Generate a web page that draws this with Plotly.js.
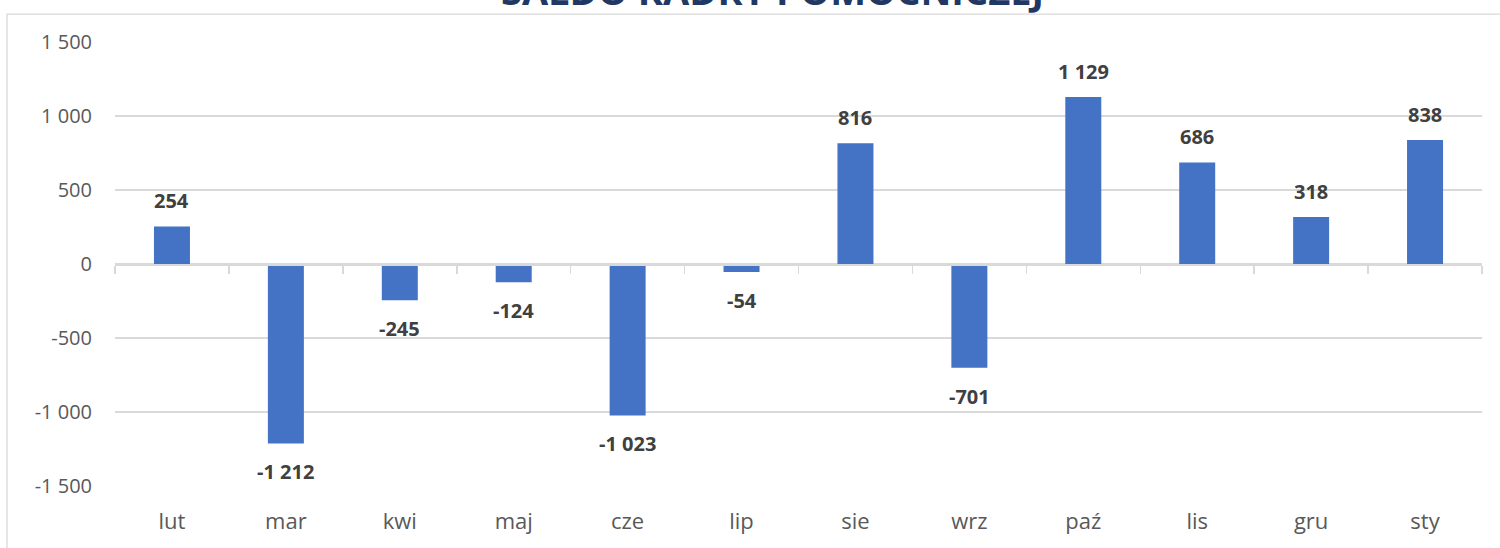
<!DOCTYPE html>
<html>
<head>
<meta charset="utf-8">
<script src="https://cdn.plot.ly/plotly-3.0.1.min.js"></script>
<style>html,body{margin:0;padding:0;background:#fff;}#chart{width:1500px;height:548px;}</style>
</head>
<body>
<div id="chart"></div>
<script>
const months = ['lut','mar','kwi','maj','cze','lip','sie','wrz','paź','lis','gru','sty'];
const saldo = [254, -1212, -245, -124, -1023, -54, 816, -701, 1129, 686, 318, 838];
const yTickVals = [-1500, -1000, -500, 0, 500, 1000, 1500];
const yTickLabels = ['-1 500', '-1 000', '-500', '0', '500', '1 000', '1 500'];
const titleText = 'SALDO KADRY POMOCNICZEJ';

function fmt(v) {
  const s = Math.abs(v).toString().replace(/\B(?=(\d{3})+(?!\d))/g, ' ');
  return (v < 0 ? '-' : '') + s;
}

const traces = [
  {
    type: 'bar',
    x: months,
    y: saldo,
    marker: {color: '#4472c4'},
    hoverinfo: 'x+y',
    showlegend: false
  },
  {
    type: 'scatter',
    mode: 'markers',
    x: months,
    y: months.map(() => null),
    xaxis: 'x2',
    yaxis: 'y',
    hoverinfo: 'skip',
    showlegend: false
  }
];

const labelAnnotations = months.map((m, i) => ({
  x: m,
  y: saldo[i],
  xref: 'x',
  yref: 'y',
  text: fmt(saldo[i]),
  showarrow: false,
  yanchor: saldo[i] >= 0 ? 'bottom' : 'top',
  yshift: saldo[i] >= 0 ? 10 : -13,
  font: {family: 'Open Sans, sans-serif', size: 20, color: '#404040', weight: 'bold'}
}));

const layout = {
  width: 1500,
  height: 548,
  margin: {l: 115, r: 18, t: 42, b: 62},
  paper_bgcolor: '#ffffff',
  plot_bgcolor: '#ffffff',
  bargap: 0.684,
  title: {
    text: titleText,
    font: {family: 'Open Sans, sans-serif', size: 38, color: '#1f3864', weight: 'bold'},
    x: 0.515,
    xanchor: 'center',
    xref: 'container',
    yref: 'container',
    y: 0.99,
    yanchor: 'bottom'
  },
  xaxis: {
    type: 'category',
    range: [-0.5, 11.5],
    showgrid: false,
    zeroline: false,
    showline: false,
    ticks: '',
    tickfont: {family: 'Open Sans, sans-serif', size: 22, color: '#595959'},
    ticklabelstandoff: 20
  },
  xaxis2: {
    type: 'category',
    overlaying: 'x',
    anchor: 'free',
    position: 0.5,
    range: [-0.5, 11.5],
    showgrid: false,
    zeroline: false,
    showline: true,
    linecolor: '#d9d9d9',
    linewidth: 1.5,
    ticks: 'outside',
    tickson: 'boundaries',
    ticklen: 8,
    tickwidth: 1.5,
    tickcolor: '#d9d9d9',
    showticklabels: false
  },
  yaxis: {
    range: [-1500, 1500],
    tickvals: yTickVals,
    ticktext: yTickLabels,
    showgrid: true,
    gridcolor: '#d9d9d9',
    gridwidth: 1.3,
    zeroline: false,
    showline: false,
    ticks: '',
    tickfont: {family: 'Open Sans, sans-serif', size: 20, color: '#595959'},
    ticklabelstandoff: 22
  },
  annotations: labelAnnotations,
  shapes: [
    {
      type: 'rect', xref: 'paper', yref: 'paper',
      x0: -0.079, x1: 1.2, y0: -0.3, y1: 1.063,
      line: {color: '#d9d9d9', width: 1.3},
      fillcolor: 'rgba(0,0,0,0)',
      layer: 'below'
    }
  ]
};

Plotly.newPlot('chart', traces, layout, {displayModeBar: false, staticPlot: true});
</script>
</body>
</html>
